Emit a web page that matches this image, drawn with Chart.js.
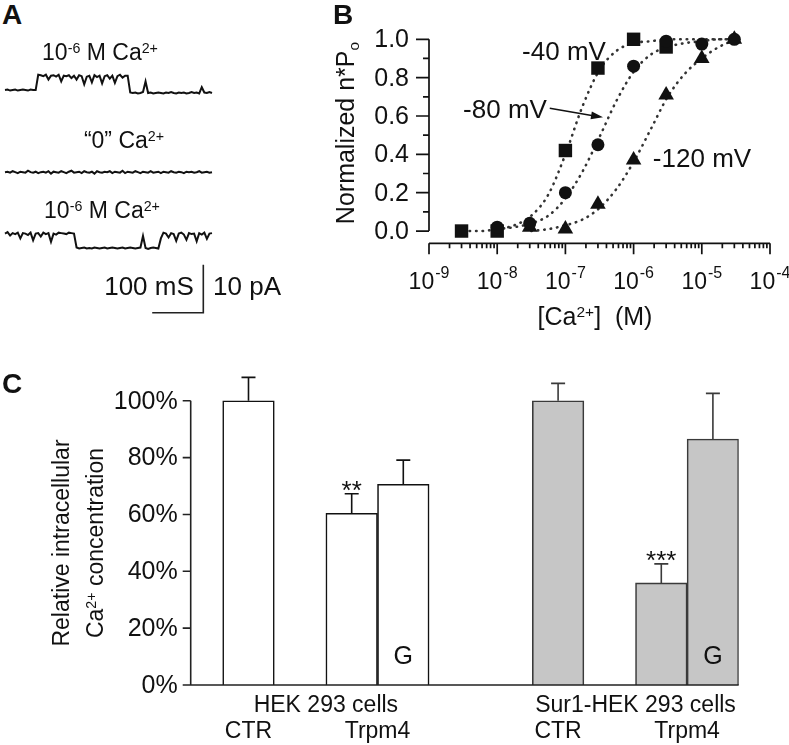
<!DOCTYPE html>
<html>
<head>
<meta charset="utf-8">
<script src="https://cdn.jsdelivr.net/npm/chart.js@4.4.1/dist/chart.umd.min.js"></script>
<style>
  body { margin: 0; background: #fff; }
  #fig { position: relative; width: 789px; height: 745px; overflow: hidden;
         font-family: "Liberation Sans", Arial, sans-serif; color: #111; }
  #fig canvas { position: absolute; }
  .t { position: absolute; white-space: nowrap; transform: translate(-50%, -50%);
       font-size: 23px; line-height: 1; }
  .t sup { font-size: 0.62em; position: relative; top: -0.5em; vertical-align: baseline; line-height: 0; }
  .t sub { font-size: 0.62em; position: relative; top: 0.3em; vertical-align: baseline; line-height: 0; }
  .rot { transform: translate(-50%, -50%) rotate(-90deg); }
  .panel { position: absolute; font-weight: bold; font-size: 28px; line-height: 1; }
</style>
</head>
<body>
<div id="fig">
  <canvas id="chartA" width="220" height="260" style="left:0;top:60px"></canvas>
  <canvas id="chartB" width="489" height="320" style="left:300px;top:0"></canvas>
  <canvas id="chartC" width="789" height="405" style="left:0;top:340px"></canvas>

  <div class="panel" style="left:2px;top:1px">A</div>
  <div class="panel" style="left:333px;top:1px">B</div>
  <div class="panel" style="left:2px;top:370px">C</div>

  <div class="t" style="left:100px;top:52px;font-size:23px">10<sup>-6</sup> M Ca<sup>2+</sup></div>
  <div class="t" style="left:124px;top:140px;font-size:23px">“0” Ca<sup>2+</sup></div>
  <div class="t" style="left:102px;top:210px;font-size:23px">10<sup>-6</sup> M Ca<sup>2+</sup></div>
  <div class="t" style="left:149px;top:286px;font-size:26px">100 mS</div>
  <div class="t" style="left:247px;top:286px;font-size:26px">10 pA</div>

  <div class="t rot" style="left:345px;top:133px;font-size:25px">Normalized n*P<sub>o</sub></div>
  <div class="t" style="left:595px;top:316px;font-size:25px">[Ca<sup>2+</sup>]&nbsp; (M)</div>
  <div class="t" style="left:564px;top:51px;font-size:26px">-40 mV</div>
  <div class="t" style="left:505px;top:109px;font-size:26px">-80 mV</div>
  <div class="t" style="left:702px;top:158px;font-size:26px">-120 mV</div>

  <div class="t rot" style="left:61px;top:543px;">Relative intracellular</div>
  <div class="t rot" style="left:95px;top:543px;">Ca<sup>2+</sup> concentration</div>
</div>

<script>
// ---------- panel A: single-channel traces ----------
const sampleMs = [0,5,10,15,20,25,30,35,40,45,50,55,60,65,70,75,80,85,90,95,100,105,110,115,120,125,130,135,140,145,150,155,160,165,170,175,180,185,190,195,200,205,210,215,220,225,230,235,240,245,250,255,260,265,270,275,280,285,290,295,300,305,310,315,320,325,330,335,340,345,350,355,360,365,370,375,380,385,390,395,400,405];

const trace1 = [0,0.1,-0.1,0,0.1,-0.1,0,0.1,0,-0.1,0.1,0,0,
  3.2,
  3.1,2.9,3.2,2.2,3.0,3.1,2.8,3.2,1.8,3.0,2.9,3.1,2.5,3.0,2.2,3.1,2.9,1.2,2.8,3.0,1.6,3.1,2.7,3.0,1.4,2.9,3.1,2.4,3.0,1.5,2.9,3.2,2.6,3.0,3.0,
  -0.5,
  -0.6,-0.5,-0.7,-0.6,-0.4,1.8,-0.6,-0.5,-0.7,-0.6,-0.5,-0.6,-0.7,-0.5,-0.6,-0.4,-0.6,-0.7,-0.5,-0.6,-0.5,-0.7,-0.6,-0.4,-0.6,-0.5,-0.7,0.6,-0.5,-0.6,-0.4,-0.6];

const trace2 = [0,0.1,-0.1,0.2,0,-0.2,0.1,0,-0.1,0.3,
  0,-0.1,0.1,-0.2,0,0.1,-0.1,0.2,-0.3,0.1,
  0,-0.1,0.2,0,-0.2,0.1,0.3,-0.1,0,0.1,
  -0.2,0.2,0,-0.1,0.1,-0.3,0.2,0,-0.1,0.1,
  0,0.2,-0.2,0.1,0,-0.1,0.3,-0.2,0.1,0,
  -0.1,0.2,0,-0.2,0.1,0,-0.1,0.2,-0.1,0,
  0.1,-0.2,0.1,0,-0.1,0.2,0,-0.1,0.1,0,
  -0.2,0.1,0,0.1,-0.1,0,0.2,-0.1,0,0.1,
  -0.1,0];

const trace3 = [3.0,3.3,2.6,3.1,2.9,3.2,2.0,3.1,3.0,2.7,3.2,1.6,3.0,3.1,2.4,3.2,2.9,3.1,1.3,3.0,2.8,3.2,3.1,3.0,2.9,3.2,3.1,3.0,
  0.1,-0.1,0,0.1,-0.1,0,-0.1,0.1,0,-0.1,0,0.1,-0.1,0,0.1,0,-0.1,0,0.1,-0.1,0,0.1,0,-0.1,0,0.1,2.5,0,-0.2,0,0.1,0,-0.1,
  2.0,
  3.2,3.0,2.2,3.1,2.9,1.5,3.0,3.2,2.8,1.7,3.1,2.9,3.0,1.4,3.1,2.8,3.2,1.9,3.0,3.1];

const traces = [trace1, trace2, trace3];
const traceOffsets = [47.9, 30.8, 15.0];   // pA, vertical stacking of the sweeps
const scaleBarMs = 100;
const scaleBarPa = 10;

const scaleBarPlugin = {
  id: 'scaleBar',
  afterDraw(chart) {
    const {ctx, scales: {x, y}} = chart;
    const xr = x.getPixelForValue(388), xl = x.getPixelForValue(388 - scaleBarMs);
    const yb = y.getPixelForValue(1.5), yt = y.getPixelForValue(1.5 + scaleBarPa);
    ctx.save();
    ctx.strokeStyle = '#222';
    ctx.lineWidth = 1.6;
    ctx.beginPath();
    ctx.moveTo(xl, yb); ctx.lineTo(xr, yb); ctx.lineTo(xr, yt);
    ctx.stroke();
    ctx.restore();
  }
};

new Chart(document.getElementById('chartA'), {
  type: 'line',
  data: {
    datasets: traces.map((tr, k) => ({
      data: sampleMs.map((t, i) => ({x: t, y: tr[i] + traceOffsets[k]})),
      borderColor: '#111',
      borderWidth: 2,
      pointRadius: 0,
      tension: 0,
      clip: false
    }))
  },
  options: {
    responsive: false,
    animation: false,
    layout: {padding: {left: 5, right: 8, top: 0, bottom: 0}},
    plugins: {legend: {display: false}, tooltip: {enabled: false}},
    scales: {
      x: {type: 'linear', min: 0, max: 405, display: false},
      y: {min: 0, max: 54.17, display: false}
    }
  },
  plugins: [scaleBarPlugin]
});

// ---------- panel B: Ca2+ dependence of n*Po ----------
const concM = [3e-9, 1e-8, 3e-8, 1e-7, 3e-7, 1e-6, 3e-6, 1e-5, 3e-5];
const po40 = [0.0, 0.0, null, 0.42, 0.85, 1.0, 0.96, null, null];
const po80 = [null, 0.02, 0.04, 0.20, 0.45, 0.86, 0.99, 0.975, 1.0];
const po120 = [null, null, 0.02, 0.01, 0.14, 0.37, 0.71, 0.90, 1.0];

const fitConc = [3.16e-9, 5.62e-9, 1e-8, 1.78e-8, 3.16e-8, 5.62e-8, 1e-7, 1.78e-7, 3.16e-7, 5.62e-7, 1e-6, 1.78e-6, 3.16e-6, 5.62e-6, 1e-5, 1.78e-5, 3.16e-5];
const fit40 = [0.0, 0.0, 0.01, 0.03, 0.08, 0.19, 0.40, 0.65, 0.84, 0.94, 0.98, 0.99, 1.0, 1.0, 1.0, 1.0, 1.0];
const fit80 = [null, null, 0.01, 0.02, 0.04, 0.08, 0.17, 0.31, 0.49, 0.68, 0.83, 0.92, 0.96, 0.98, 0.99, 1.0, 1.0];
const fit120 = [null, null, null, null, 0.0, 0.01, 0.03, 0.06, 0.12, 0.22, 0.36, 0.53, 0.70, 0.82, 0.90, 0.96, 1.0];

const yMajorB = [0, 0.2, 0.4, 0.6, 0.8, 1.0];
const yMinorB = [0.1, 0.3, 0.5, 0.7, 0.9];
const xDecadesB = [1e-9, 1e-8, 1e-7, 1e-6, 1e-5, 1e-4];
const xExpLabelsB = ['-9', '-8', '-7', '-6', '-5', '-4'];

const pts = (ys) => concM.map((c, i) => ({x: c, y: ys[i]}));
const fitPts = (ys) => fitConc.map((c, i) => ({x: c, y: ys[i]}));

const markerSet = (ys, style, r) => ({
  type: 'scatter', data: pts(ys), pointStyle: style, pointRadius: r,
  backgroundColor: '#111', borderColor: '#111', borderWidth: 0, order: 0, clip: false
});
const fitSet = (ys) => ({
  type: 'line', data: fitPts(ys), borderColor: '#333', borderWidth: 2.6,
  borderDash: [0.5, 6], borderCapStyle: 'round', pointRadius: 0,
  cubicInterpolationMode: 'monotone', spanGaps: false, order: 1, clip: false
});

const axesB = {
  id: 'axesB',
  afterDraw(chart) {
    const {ctx, chartArea: a, scales: {x, y}} = chart;
    ctx.save();
    ctx.strokeStyle = '#111';
    ctx.fillStyle = '#111';
    ctx.lineWidth = 1.7;
    ctx.beginPath();
    ctx.moveTo(a.left, y.getPixelForValue(0));
    ctx.lineTo(a.left, y.getPixelForValue(1));
    yMajorB.forEach(v => { const p = y.getPixelForValue(v); ctx.moveTo(a.left, p); ctx.lineTo(a.left - 13, p); });
    yMinorB.forEach(v => { const p = y.getPixelForValue(v); ctx.moveTo(a.left, p); ctx.lineTo(a.left - 6, p); });
    ctx.moveTo(a.left, a.bottom); ctx.lineTo(a.right, a.bottom);
    xDecadesB.forEach((d, i) => {
      const p = x.getPixelForValue(d);
      ctx.moveTo(p, a.bottom); ctx.lineTo(p, a.bottom + 11);
      if (i < xDecadesB.length - 1) {
        for (let m = 2; m <= 9; m++) {
          const q = x.getPixelForValue(m * d);
          ctx.moveTo(q, a.bottom); ctx.lineTo(q, a.bottom + 5);
        }
      }
    });
    ctx.stroke();

    ctx.font = '25px "Liberation Sans", Arial, sans-serif';
    ctx.textAlign = 'right';
    ctx.textBaseline = 'middle';
    yMajorB.forEach(v => ctx.fillText(v.toFixed(1), a.left - 20, y.getPixelForValue(v) + 1));

    ctx.textAlign = 'left';
    ctx.textBaseline = 'alphabetic';
    xDecadesB.forEach((d, i) => {
      const p = x.getPixelForValue(d);
      ctx.font = '23px "Liberation Sans", Arial, sans-serif';
      const w1 = ctx.measureText('10').width;
      ctx.font = '16px "Liberation Sans", Arial, sans-serif';
      const w2 = ctx.measureText(xExpLabelsB[i]).width;
      const x0 = p - (w1 + w2 + 1) / 2;
      ctx.font = '23px "Liberation Sans", Arial, sans-serif';
      ctx.fillText('10', x0, 289);
      ctx.font = '16px "Liberation Sans", Arial, sans-serif';
      ctx.fillText(xExpLabelsB[i], x0 + w1 + 1, 278);
    });

    // arrow pointing at the -80 mV fit
    const tx = x.getPixelForValue(3.56e-7), ty = y.getPixelForValue(0.593);
    const sx = x.getPixelForValue(5.9e-8), sy = y.getPixelForValue(0.64);
    const ang = Math.atan2(ty - sy, tx - sx);
    ctx.lineWidth = 1.5;
    ctx.beginPath();
    ctx.moveTo(sx, sy);
    ctx.lineTo(tx - 10 * Math.cos(ang), ty - 10 * Math.sin(ang));
    ctx.stroke();
    ctx.beginPath();
    ctx.moveTo(tx, ty);
    ctx.lineTo(tx - 12 * Math.cos(ang) + 4 * Math.sin(ang), ty - 12 * Math.sin(ang) - 4 * Math.cos(ang));
    ctx.lineTo(tx - 12 * Math.cos(ang) - 4 * Math.sin(ang), ty - 12 * Math.sin(ang) + 4 * Math.cos(ang));
    ctx.closePath();
    ctx.fill();
    ctx.restore();
  }
};

new Chart(document.getElementById('chartB'), {
  data: {
    datasets: [
      markerSet(po80, 'circle', 6.5),
      markerSet(po40, 'rect', 9.5),
      markerSet(po120, 'triangle', 9),
      fitSet(fit40),
      fitSet(fit80),
      fitSet(fit120)
    ]
  },
  options: {
    responsive: false,
    animation: false,
    layout: {padding: {left: 129, right: 19, top: 39.3, bottom: 76.7}},
    plugins: {legend: {display: false}, tooltip: {enabled: false}},
    scales: {
      x: {type: 'logarithmic', min: 1e-9, max: 1e-4, display: false},
      y: {type: 'linear', min: -0.064, max: 1.0, display: false}
    }
  },
  plugins: [axesB]
});

// ---------- panel C: relative intracellular Ca2+ ----------
const barGroups = ['HEK 293 cells', 'Sur1-HEK 293 cells'];
const barGroupOf = [0, 0, 0, 1, 1, 1];
const barNames = ['CTR', 'Trpm4', 'Trpm4 + G', 'CTR', 'Trpm4', 'Trpm4 + G'];
const barValues = [100, 60.4, 70.6, 100, 35.9, 86.5];
const barErrors = [8.2, 6.9, 8.5, 6.1, 6.7, 16.1];
const barSignif = ['', '**', '', '', '***', ''];
const barDrug = ['', '', 'G', '', '', 'G'];
const barSlots = [0, 2, 3, 6, 8, 9];
const yTicksC = [0, 20, 40, 60, 80, 100];

const groupFill = ['#ffffff', '#c6c6c6'];
const groupEdge = ['#111111', '#3a3a3a'];

const decorC = {
  id: 'decorC',
  afterDatasetsDraw(chart) {
    const {ctx, chartArea: a, scales: {x, y}} = chart;
    const font = (s) => s + 'px "Liberation Sans", Arial, sans-serif';
    ctx.save();
    ctx.lineWidth = 1.6;
    // error bars, significance and drug marks
    barValues.forEach((v, i) => {
      const px = x.getPixelForValue(barSlots[i]);
      const top = y.getPixelForValue(v + barErrors[i]);
      const base = y.getPixelForValue(v);
      ctx.strokeStyle = groupEdge[barGroupOf[i]];
      ctx.beginPath();
      ctx.moveTo(px, base); ctx.lineTo(px, top);
      ctx.moveTo(px - 7, top); ctx.lineTo(px + 7, top);
      ctx.stroke();
      ctx.fillStyle = '#111';
      ctx.textAlign = 'center';
      if (barSignif[i]) {
        ctx.font = font(26);
        ctx.textBaseline = 'alphabetic';
        ctx.fillText(barSignif[i], px, top + 5);
      }
      if (barDrug[i]) {
        ctx.font = font(25);
        ctx.textBaseline = 'middle';
        ctx.fillText(barDrug[i], px, y.getPixelForValue(10) + 1);
      }
    });
    // axes
    ctx.strokeStyle = '#222';
    ctx.lineWidth = 1.6;
    ctx.beginPath();
    ctx.moveTo(a.left, y.getPixelForValue(0));
    ctx.lineTo(a.left, y.getPixelForValue(100));
    yTicksC.forEach(v => { const p = y.getPixelForValue(v); ctx.moveTo(a.left, p); ctx.lineTo(a.left - 8, p); });
    ctx.moveTo(a.left - 8, a.bottom); ctx.lineTo(a.right, a.bottom);
    ctx.stroke();
    ctx.fillStyle = '#111';
    ctx.font = font(25);
    ctx.textAlign = 'right';
    ctx.textBaseline = 'middle';
    yTicksC.forEach(v => ctx.fillText(v + '%', a.left - 13, y.getPixelForValue(v) + 1));
    // category labels
    ctx.textAlign = 'center';
    ctx.font = font(23);
    barGroups.forEach((g, gi) => {
      const idx = barGroupOf.map((v, i) => v === gi ? i : -1).filter(i => i >= 0);
      const first = idx[0], last = idx[idx.length - 1];
      const gx = (x.getPixelForValue(barSlots[first]) + x.getPixelForValue(barSlots[last])) / 2;
      ctx.fillText(g, gx, a.bottom + 21);
      ctx.fillText('CTR', x.getPixelForValue(barSlots[first]), a.bottom + 47);
      const tx = (x.getPixelForValue(barSlots[first + 1]) + x.getPixelForValue(barSlots[last])) / 2;
      ctx.fillText('Trpm4', tx, a.bottom + 47);
    });
    ctx.restore();
  }
};

new Chart(document.getElementById('chartC'), {
  type: 'bar',
  data: {
    datasets: [{
      data: barValues.map((v, i) => ({x: barSlots[i], y: v})),
      backgroundColor: barGroupOf.map(g => groupFill[g]),
      borderColor: barGroupOf.map(g => groupEdge[g]),
      borderWidth: 1.6,
      barPercentage: 1,
      categoryPercentage: 1
    }]
  },
  options: {
    responsive: false,
    animation: false,
    layout: {padding: {left: 190.7, right: 50.3, top: 32.3, bottom: 60}},
    plugins: {legend: {display: false}, tooltip: {enabled: false}},
    scales: {
      x: {type: 'linear', min: -1.12, max: 9.5, offset: false, display: false,
          ticks: {stepSize: 1, includeBounds: false}},
      y: {min: 0, max: 110, display: false}
    }
  },
  plugins: [decorC]
});
</script>
</body>
</html>
